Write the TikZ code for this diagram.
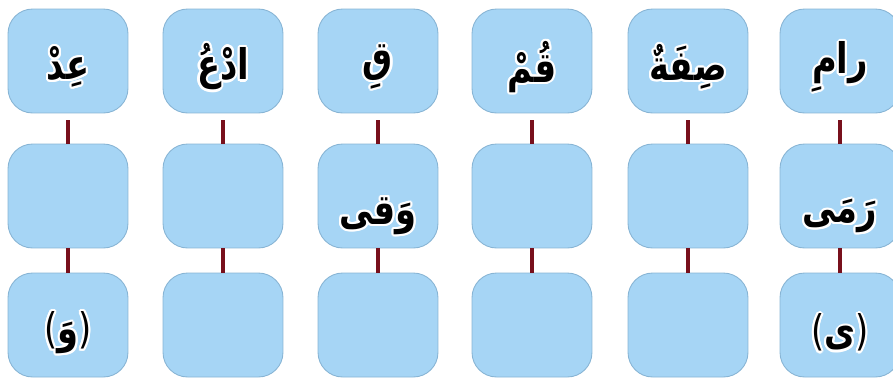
\documentclass[tikz,border=0pt]{standalone}
\usepackage{fontspec}
\usepackage{contour}
\TeXXeTstate=1
\newfontfamily\arabicfont[Script=Arabic,FakeStretch=0.8]{DejaVu Sans}
\newfontfamily\parenfont[FakeStretch=0.8]{DejaVu Sans}
\definecolor{cellfill}{RGB}{166,213,245}
\definecolor{cellline}{RGB}{135,180,212}
\definecolor{linkred}{RGB}{120,16,28}
\contourlength{1.2pt}
\contournumber{16}
\newcommand{\arword}[1]{\contour{white}{\arabicfont\bfseries\beginR #1\endR}}
\newcommand{\arparen}[1]{\contour{white}{{\parenfont(}{\arabicfont\bfseries\beginR #1\endR}{\parenfont)}}}
\begin{document}
\begin{tikzpicture}[x=0.02cm,y=-0.02cm,
  cell/.style={draw=cellline,fill=cellfill,line width=0.5pt,rounded corners=14pt,
    minimum width=2.4cm,minimum height=2.08cm,inner sep=0pt},
  word/.style={inner sep=0pt,font=\fontsize{24}{28}\selectfont},
  link/.style={draw=linkred,line width=1.8pt}]
  \useasboundingbox (0,0) rectangle (893,380);
  \clip (0,0) rectangle (893,380);
  % three rows of cells, one column per word
  \foreach \c/\x in {1/68,2/223,3/378,4/532,5/688,6/840} {
    \node[cell] (t\c) at (\x,61) {};
    \node[cell] (m\c) at (\x,196) {};
    \node[cell] (b\c) at (\x,325) {};
    \draw[link] ([yshift=-4pt]t\c.south) -- (m\c.north);
    \draw[link] (m\c.south) -- (b\c.north);
  }
  % first row
  \node[word] (w1) at ([yshift=-4pt]t1.center) {\arword{عِدْ}};
  \node[word] (w2) at ([yshift=-4pt]t2.center) {\arword{ادْعُ}};
  \node[word] (w3) at ([yshift=-4pt]t3.center) {\arword{قِ}};
  \node[word] (w4) at ([yshift=-4pt]t4.center) {\arword{قُمْ}};
  \node[word] (w5) at ([yshift=-4pt]t5.center) {\arword{صِفَةٌ}};
  \node[word] (w6) at ([yshift=-4pt]t6.center) {\arword{رامِ}};
  % second row
  \node[word] (v3) at ([yshift=-12pt]m3.center) {\arword{وَقى}};
  \node[word] (v6) at ([yshift=-12pt]m6.center) {\arword{رَمَى}};
  % third row
  \node[word] (p1) at ([yshift=-5pt]b1.center) {\arparen{وَ}};
  \node[word] (p6) at ([yshift=-5pt]b6.center) {\arparen{ى}};
\end{tikzpicture}
\end{document}
